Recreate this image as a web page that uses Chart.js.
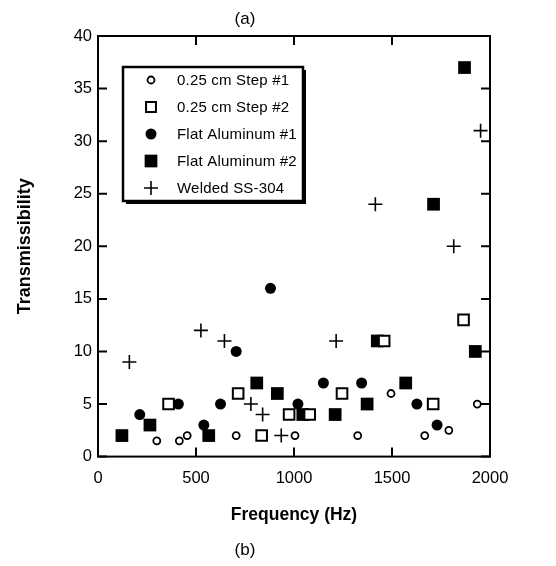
<!DOCTYPE html>
<html>
<head>
<meta charset="utf-8">
<script src="https://cdn.jsdelivr.net/npm/chart.js@4/dist/chart.umd.min.js"></script>
<style>
  html, body { margin: 0; padding: 0; background: #fff; }
  #wrap { width: 556px; height: 566px; }
</style>
</head>
<body>
<div id="wrap"><canvas id="chart"></canvas></div>
<script>
// values (frequency in Hz, transmissibility)
const step1Freq  = [300, 415, 455, 705, 1005, 1325, 1495, 1667, 1790, 1935];
const step1Trans = [1.5, 1.5, 2, 2, 2, 2, 6, 2, 2.5, 5];

const step2Freq  = [360, 715, 835, 975, 1080, 1245, 1460, 1710, 1865];
const step2Trans = [5, 6, 2, 4, 4, 6, 11, 5, 13];

const flat1Freq  = [213, 410, 540, 625, 705, 880, 1020, 1150, 1345, 1627, 1730];
const flat1Trans = [4, 5, 3, 5, 10, 16, 5, 7, 7, 5, 3];

const flat2Freq  = [122, 265, 565, 810, 915, 1045, 1210, 1373, 1425, 1570, 1712, 1870, 1925];
const flat2Trans = [2, 3, 2, 7, 6, 4, 4, 5, 11, 7, 24, 37, 10];

const weldFreq  = [160, 525, 645, 780, 840, 935, 1215, 1415, 1815, 1952];
const weldTrans = [9, 12, 11, 5, 4, 2, 11, 24, 20, 31];

const xTicks = [0, 500, 1000, 1500, 2000];
const yTicks = [0, 5, 10, 15, 20, 25, 30, 35, 40];

const FONT = '"Liberation Sans", Arial, sans-serif';

function pts(xs, ys) {
  return xs.map((x, i) => ({ x: x, y: ys[i] }));
}

// frame with inward ticks on all four sides + boxed legend inside the plot
const framePlugin = {
  id: 'frame',
  afterDraw(chart) {
    const ctx = chart.ctx;
    const a = chart.chartArea;
    const sx = chart.scales.x, sy = chart.scales.y;
    ctx.save();
    ctx.strokeStyle = '#000';
    ctx.lineWidth = 2;
    ctx.strokeRect(a.left, a.top, a.right - a.left, a.bottom - a.top);
    ctx.beginPath();
    xTicks.forEach(v => {
      const px = sx.getPixelForValue(v);
      ctx.moveTo(px, a.bottom); ctx.lineTo(px, a.bottom - 9);
      ctx.moveTo(px, a.top); ctx.lineTo(px, a.top + 9);
    });
    yTicks.forEach(v => {
      const py = sy.getPixelForValue(v);
      ctx.moveTo(a.left, py); ctx.lineTo(a.left + 9, py);
      ctx.moveTo(a.right, py); ctx.lineTo(a.right - 9, py);
    });
    ctx.stroke();

    // legend box
    const bx = a.left + 25, by = a.top + 31, bw = 180, bh = 134;
    ctx.fillStyle = '#000';
    ctx.fillRect(bx + 3, by + 3, bw, bh);
    ctx.fillStyle = '#fff';
    ctx.fillRect(bx, by, bw, bh);
    ctx.lineWidth = 2.5;
    ctx.strokeRect(bx, by, bw, bh);

    ctx.font = '15px ' + FONT;
    ctx.letterSpacing = '0.2px';
    ctx.textBaseline = 'middle';
    chart.data.datasets.forEach((ds, i) => {
      const ly = by + 13 + i * 27;
      ctx.fillStyle = ds.backgroundColor;
      ctx.strokeStyle = ds.borderColor;
      ctx.lineWidth = ds.borderWidth;
      Chart.helpers.drawPoint(ctx, {
        pointStyle: ds.pointStyle,
        radius: ds.legendRadius,
        rotation: 0,
        borderWidth: ds.borderWidth
      }, bx + 28, ly);
      ctx.fillStyle = '#000';
      ctx.fillText(ds.label, bx + 54, ly + 1);
    });
    ctx.restore();
  }
};

new Chart(document.getElementById('chart'), {
  type: 'scatter',
  data: {
    datasets: [
      {
        label: '0.25 cm Step #1',
        data: pts(step1Freq, step1Trans),
        pointStyle: 'circle', pointRadius: 3.5, legendRadius: 3.5,
        backgroundColor: '#fff', borderColor: '#000', borderWidth: 1.8
      },
      {
        label: '0.25 cm Step #2',
        data: pts(step2Freq, step2Trans),
        pointStyle: 'rect', pointRadius: 7.5, legendRadius: 7,
        backgroundColor: '#fff', borderColor: '#000', borderWidth: 2
      },
      {
        label: 'Flat Aluminum #1',
        data: pts(flat1Freq, flat1Trans),
        pointStyle: 'circle', pointRadius: 5.5, legendRadius: 5.5,
        backgroundColor: '#000', borderColor: '#000', borderWidth: 0
      },
      {
        label: 'Flat Aluminum #2',
        data: pts(flat2Freq, flat2Trans),
        pointStyle: 'rect', pointRadius: 9, legendRadius: 9,
        backgroundColor: '#000', borderColor: '#000', borderWidth: 0
      },
      {
        label: 'Welded SS-304',
        data: pts(weldFreq, weldTrans),
        pointStyle: 'cross', pointRadius: 7, legendRadius: 7,
        backgroundColor: '#000', borderColor: '#000', borderWidth: 1.6
      }
    ]
  },
  options: {
    responsive: true,
    maintainAspectRatio: false,
    animation: false,
    clip: false,
    layout: { padding: { left: 0, right: 66, top: 0, bottom: 0 } },
    plugins: {
      legend: { display: false },
      tooltip: { enabled: false },
      title: {
        display: true,
        text: '(a)',
        color: '#000',
        font: { family: FONT, size: 17, weight: 'normal' },
        padding: { top: 9.6, bottom: 6 }
      },
      subtitle: {
        display: true,
        position: 'bottom',
        text: '(b)',
        color: '#000',
        font: { family: FONT, size: 17, weight: 'normal' },
        padding: { top: 2, bottom: 5 }
      }
    },
    scales: {
      x: {
        type: 'linear',
        min: 0, max: 2000,
        afterBuildTicks(scale) { scale.ticks = xTicks.map(v => ({ value: v })); },
        afterFit(scale) { scale.height = 82; },
        grid: { display: false, drawTicks: false },
        border: { display: false },
        ticks: {
          color: '#000', padding: 12,
          font: { family: FONT, size: 16.5 },
          callback: v => String(v)
        },
        title: {
          display: true,
          text: 'Frequency (Hz)',
          color: '#000',
          font: { family: FONT, size: 17.5, weight: 'bold' },
          padding: { top: 0, bottom: 13 }
        }
      },
      y: {
        type: 'linear',
        min: 0, max: 40,
        afterBuildTicks(scale) { scale.ticks = yTicks.map(v => ({ value: v })); },
        afterFit(scale) { scale.width = 98; },
        grid: { display: false, drawTicks: false },
        border: { display: false },
        ticks: {
          color: '#000', padding: 6,
          font: { family: FONT, size: 16.5 },
          callback: v => String(v)
        },
        title: {
          display: true,
          text: 'Transmissibility',
          color: '#000',
          font: { family: FONT, size: 18, weight: 'bold' },
          padding: { top: 14, bottom: 0 }
        }
      }
    }
  },
  plugins: [framePlugin]
});
</script>
</body>
</html>
